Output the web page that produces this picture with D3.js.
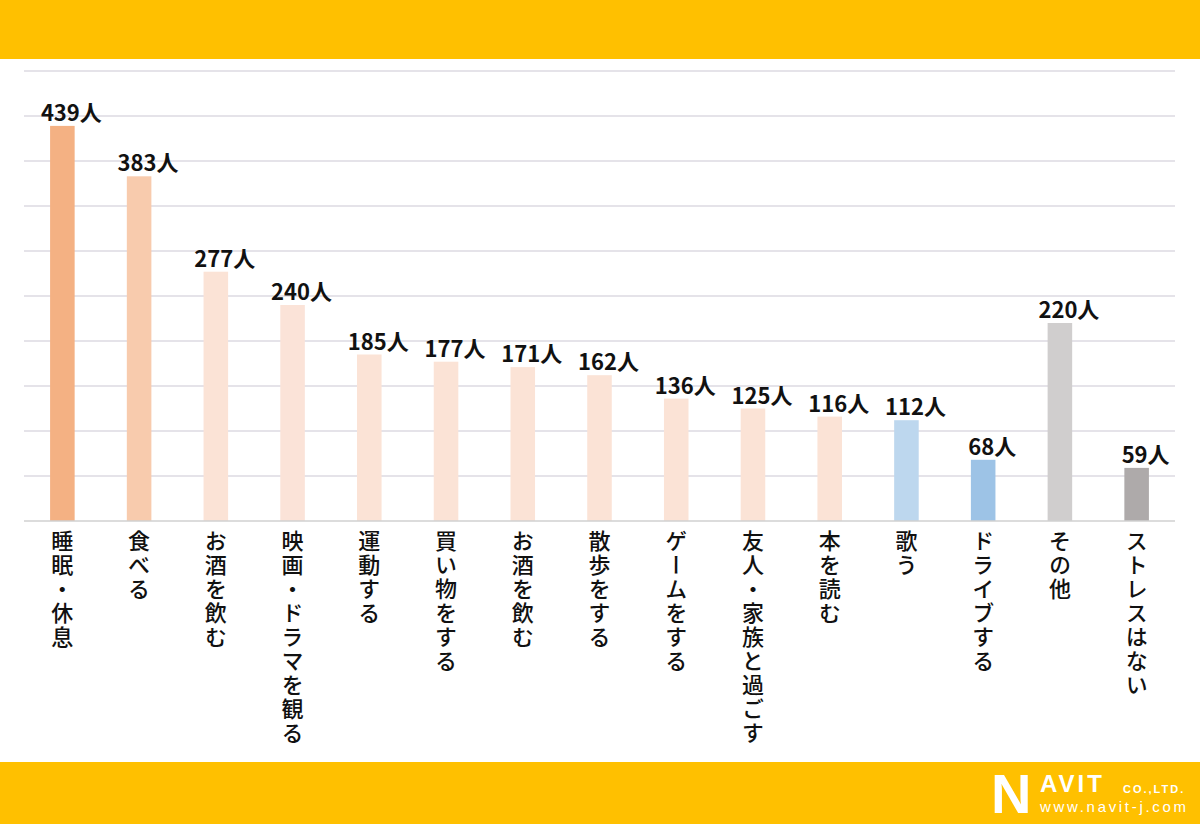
<!DOCTYPE html>
<html><head><meta charset="utf-8">
<script src="https://cdn.jsdelivr.net/npm/d3@7"></script>
<style>
html,body{margin:0;padding:0;background:#fff;}
svg{display:block;}
text{font-family:"Noto Sans CJK JP","Noto Sans",sans-serif;}
</style></head>
<body>
<script>
const categories = ["睡眠・休息","食べる","お酒を飲む","映画・ドラマを観る","運動する","買い物をする","お酒を飲む","散歩をする","ゲームをする","友人・家族と過ごす","本を読む","歌う","ドライブする","その他","ストレスはない"];
const values = [439,383,277,240,185,177,171,162,136,125,116,112,68,220,59];
const colors = ["#F4B183","#F8CBAD","#FBE3D6","#FBE3D8","#FBE3D6","#FBE3D6","#FBE3D6","#FBE3D6","#FBE3D6","#FBE3D6","#FBE3D6","#BDD7EE","#9DC3E6","#D0CECE","#AEAAAA"];
const yTicks = [0,50,100,150,200,250,300,350,400,450,500];
const unit = "人";

const W = 1200, H = 824;
const svg = d3.select("body").append("svg").attr("width", W).attr("height", H);

// bands
svg.append("rect").attr("x",0).attr("y",0).attr("width",W).attr("height",59).attr("fill","#FFC000");
svg.append("rect").attr("x",0).attr("y",762).attr("width",W).attr("height",H-762).attr("fill","#FFC000");

const x = d3.scaleBand().domain(d3.range(categories.length)).range([24,1175]).paddingInner(0.68).paddingOuter(0.34);
const y = d3.scaleLinear().domain([0,500]).range([521,71]);

// gridlines
svg.append("g").selectAll("line").data(yTicks.filter(d=>d>0)).join("line")
  .attr("x1",24).attr("x2",1175).attr("y1",d=>y(d)).attr("y2",d=>y(d))
  .attr("stroke","#DCDAE2").attr("stroke-width",1.3);

// bars
svg.append("g").selectAll("rect").data(values).join("rect")
  .attr("x",(d,i)=>x(i)).attr("width",x.bandwidth())
  .attr("y",d=>y(d)).attr("height",d=>y(0)-y(d))
  .attr("fill",(d,i)=>colors[i]);

// baseline
svg.append("line").attr("x1",24).attr("x2",1175).attr("y1",y(0)).attr("y2",y(0))
  .attr("stroke","#D0D0D0").attr("stroke-width",1.5);

// value labels
svg.append("g").selectAll("text").data(values).join("text")
  .attr("x",(d,i)=>x(i)+x.bandwidth()/2+9).attr("y",d=>y(d)-5)
  .attr("text-anchor","middle").attr("font-size",22).attr("font-weight",700).attr("fill","#111")
  .text(d=>d+unit);

// category labels (vertical)
svg.append("g").selectAll("text").data(categories).join("text")
  .attr("transform",(d,i)=>`translate(${x(i)+x.bandwidth()/2},${y(0)+9})`)
  .attr("style","writing-mode:vertical-rl;text-orientation:upright;")
  .attr("font-size",22).attr("font-weight",500).attr("fill","#111")
  .attr("letter-spacing",2)
  .text(d=>d);

// logo
const logo = svg.append("g").attr("fill","#fff").attr("font-family","'Liberation Sans', Arial, sans-serif").attr("font-weight",700);
logo.append("text").attr("x",991).attr("y",813).attr("font-size",56).attr("style","font-family:'Liberation Sans',Arial,sans-serif").text("N");
logo.append("text").attr("x",1040).attr("y",792).attr("font-size",24).attr("letter-spacing",3).attr("style","font-family:'Liberation Sans',Arial,sans-serif").text("AVIT");
logo.append("text").attr("x",1123).attr("y",793).attr("font-size",11).attr("letter-spacing",2).attr("style","font-family:'Liberation Sans',Arial,sans-serif").text("CO.,LTD.");
logo.append("text").attr("x",1040).attr("y",812).attr("font-size",15).attr("font-weight",400)
  .attr("textLength",146).attr("lengthAdjust","spacing").attr("style","font-family:'Liberation Sans',Arial,sans-serif").text("www.navit-j.com");
</script>
</body></html>
